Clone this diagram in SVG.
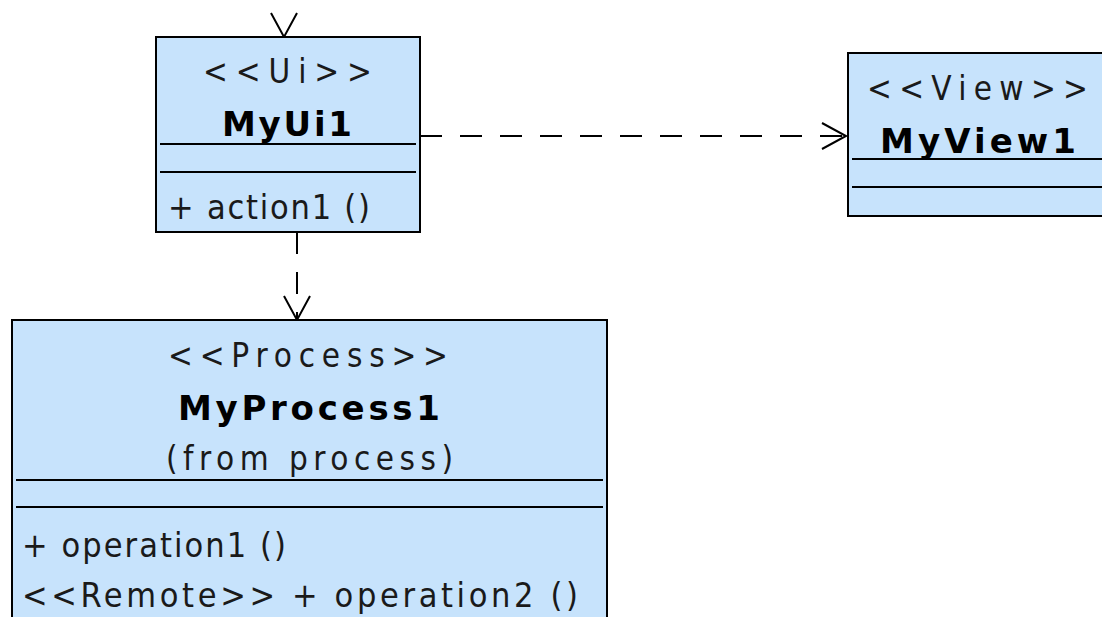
<svg xmlns="http://www.w3.org/2000/svg" width="1102" height="617" viewBox="0 0 1102 617">
  <style>
    .box { fill: #c7e3fc; stroke: #000; stroke-width: 2; }
    .sep { stroke: #000; stroke-width: 2; }
    text { font-family: "DejaVu Sans Condensed", "DejaVu Sans", sans-serif; font-stretch: condensed; }
    .st { font-size: 33px; fill: #1a1a1a; }
    .nm { font-family: "DejaVu Sans", sans-serif; font-stretch: normal; font-size: 34px; font-weight: bold; fill: #000; }
    .op { font-size: 34px; fill: #1a1a1a; }
    .dep { fill: none; stroke: #000; stroke-width: 2; stroke-dasharray: 22 18; }
    .tail { fill: none; stroke: #000; stroke-width: 2; stroke-dasharray: 4 80; }
  </style>
  <defs>
    <marker id="open" markerUnits="userSpaceOnUse" markerWidth="32" markerHeight="34" viewBox="-28 -17 32 34" refX="0" refY="0" orient="auto">
      <path d="M-24,-13 L0,0 L-24,13" fill="none" stroke="#000" stroke-width="2"/>
    </marker>
  </defs>

  <g id="connectors">
    <path class="tail" d="M284,-10 L284,37" marker-end="url(#open)"/>
    <path class="dep" d="M420,136 L846,136" marker-end="url(#open)"/>
    <path class="dep" d="M297,232 L297,320" marker-end="url(#open)"/>
  </g>

  <g id="MyUi1">
    <rect class="box" x="156" y="37" width="264" height="195"/>
    <line class="sep" x1="160" y1="144" x2="416" y2="144"/>
    <line class="sep" x1="160" y1="172" x2="416" y2="172"/>
    <text class="st" x="203" y="83" textLength="169" lengthAdjust="spacing">&lt;&lt;Ui&gt;&gt;</text>
    <text class="nm" x="222" y="136" textLength="130" lengthAdjust="spacing">MyUi1</text>
    <text class="op" x="168" y="219" textLength="202" lengthAdjust="spacing">+ action1 ()</text>
  </g>

  <g id="MyView1">
    <rect class="box" x="848" y="53" width="300" height="163"/>
    <line class="sep" x1="852" y1="159" x2="1110" y2="159"/>
    <line class="sep" x1="852" y1="187" x2="1110" y2="187"/>
    <text class="st" x="867" y="100" textLength="221" lengthAdjust="spacing">&lt;&lt;View&gt;&gt;</text>
    <text class="nm" x="880" y="153" textLength="196" lengthAdjust="spacing">MyView1</text>
  </g>

  <g id="MyProcess1">
    <rect class="box" x="12" y="320" width="595" height="330"/>
    <line class="sep" x1="16" y1="480" x2="603" y2="480"/>
    <line class="sep" x1="16" y1="507" x2="603" y2="507"/>
    <text class="st" x="168" y="367" textLength="280" lengthAdjust="spacing">&lt;&lt;Process&gt;&gt;</text>
    <text class="nm" x="178" y="420" textLength="262" lengthAdjust="spacing">MyProcess1</text>
    <text class="st" x="166" y="470" textLength="287" lengthAdjust="spacing">(from process)</text>
    <text class="op" x="22" y="557" textLength="264" lengthAdjust="spacing">+ operation1 ()</text>
    <text class="op" x="22" y="607" textLength="556" lengthAdjust="spacing">&lt;&lt;Remote&gt;&gt; + operation2 ()</text>
  </g>
</svg>
